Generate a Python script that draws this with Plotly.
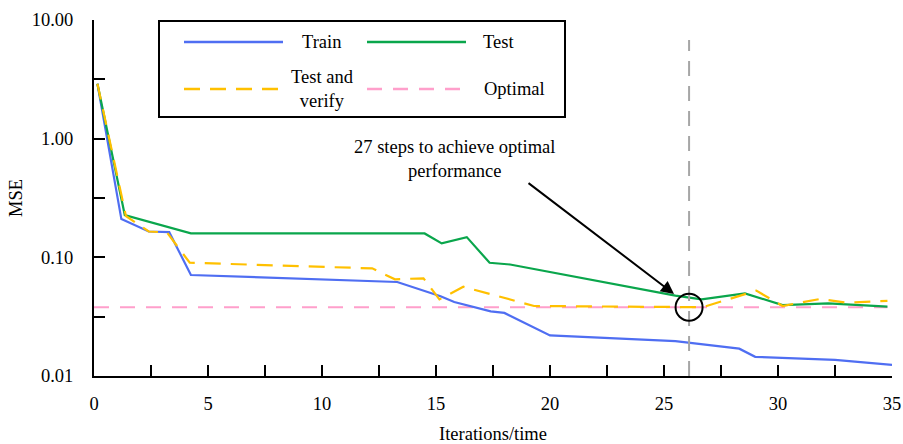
import plotly.graph_objects as go
import numpy as np

# Iterations / MSE readings for each curve
x_train = [0.15, 1.2, 2.4, 3.3, 4.25, 13.3, 15.2, 15.8, 17.4, 18.0, 20.0, 25.5, 28.3, 29.0, 32.5, 35.0]
mse_train = [2.9, 0.21, 0.165, 0.163, 0.071, 0.062, 0.047, 0.042, 0.035, 0.034, 0.022, 0.0197, 0.017, 0.0145, 0.0137, 0.0124]

x_test = [0.15, 1.35, 4.25, 14.5, 15.25, 16.35, 17.35, 18.25, 25.5, 26.65, 28.55, 30.2, 32.2, 34.8]
mse_test = [2.9, 0.227, 0.159, 0.159, 0.131, 0.148, 0.090, 0.087, 0.0475, 0.0442, 0.0497, 0.0396, 0.041, 0.0384]

x_verify = [0.15, 1.4, 2.4, 3.2, 4.2, 10.8, 12.2, 13.2, 14.45, 15.15, 16.2, 19.3, 26.7, 29.05, 30.2, 31.85, 33.0, 34.8]
mse_verify = [2.9, 0.223, 0.165, 0.162, 0.090, 0.0824, 0.0807, 0.0653, 0.0666, 0.0442, 0.0565, 0.0389, 0.038, 0.0524, 0.0389, 0.0446, 0.0415, 0.043]

x_optimal = [0.0, 34.8]
mse_optimal = [0.038, 0.038]

# Point where optimal performance is reached
x_reached = 26.1
mse_reached = 0.038
arrow_tip = (25.44, 0.0491)

x_tick_vals = [i * 2.5 for i in range(15)]
x_tick_text = [str(int(v)) if v % 5 == 0 else "" for v in x_tick_vals]
y_tick_vals = [0.01, 10 ** -1.5, 0.1, 10 ** -0.5, 1.0, 10 ** 0.5, 10.0]
y_tick_text = ["0.01", "", "0.10", "", "1.00", "", "10.00"]

BLUE = "#4F6EF2"
GREEN = "#0AA64C"
YELLOW = "#FFC000"
PINK = "#FF9FCB"
GRAY = "#A6A6A6"
FONT = "Liberation Serif"
FS = 18.5

fig = go.Figure()

fig.add_trace(go.Scatter(x=x_optimal, y=mse_optimal, mode="lines", name="Optimal",
                         line=dict(color=PINK, width=2, dash="15px,11px")))
fig.add_trace(go.Scatter(x=x_train, y=mse_train, mode="lines", name="Train",
                         line=dict(color=BLUE, width=2.2)))
fig.add_trace(go.Scatter(x=x_test, y=mse_test, mode="lines", name="Test",
                         line=dict(color=GREEN, width=2.2)))
fig.add_trace(go.Scatter(x=x_verify, y=mse_verify, mode="lines", name="Test and verify",
                         line=dict(color=YELLOW, width=2.2, dash="16px,10px")))

# vertical marker at the step where optimum is reached
fig.add_trace(go.Scatter(x=[x_reached, x_reached], y=[0.01, 6.8], mode="lines",
                         line=dict(color=GRAY, width=2, dash="15px,10px"), showlegend=False))
fig.add_trace(go.Scatter(x=[x_reached], y=[mse_reached], mode="markers", showlegend=False,
                         marker=dict(symbol="circle-open", size=27, color="black",
                                     line=dict(color="black", width=2))))

# arrow from the note to the circled point
fig.add_annotation(x=arrow_tip[0], y=np.log10(arrow_tip[1]), xref="x", yref="y",
                   text="", showarrow=True, ax=-147, ay=-112, axref="pixel", ayref="pixel",
                   arrowhead=2, arrowsize=1.3, arrowwidth=2, arrowcolor="black")
fig.add_annotation(x=0.452, y=0.61, xref="paper", yref="paper", xanchor="center", yanchor="middle",
                   text="27 steps to achieve optimal<br>performance", showarrow=False,
                   font=dict(family=FONT, size=FS, color="black"), align="center")

# legend panel
PW, PH = 798.0, 356.0
def px(v):
    return (v - 94) / PW
def py(v):
    return (376 - v) / PH

fig.add_shape(type="rect", xref="paper", yref="paper", x0=px(159), x1=px(565), y0=py(117), y1=py(21),
              line=dict(color="black", width=2), fillcolor="white", layer="above")
legend_items = [
    ("Train", BLUE, "solid", 184, 283, 42, 321),
    ("Test", GREEN, "solid", 367, 466, 42, 498),
    ("Test and<br>verify", YELLOW, "16px,10px", 184, 283, 89, 322),
    ("Optimal", PINK, "15px,11px", 367, 466, 89, 514),
]
for label, color, dash, lx0, lx1, ly, tx in legend_items:
    fig.add_shape(type="line", xref="paper", yref="paper", x0=px(lx0), x1=px(lx1), y0=py(ly), y1=py(ly),
                  line=dict(color=color, width=2.5, dash=dash), layer="above")
    fig.add_annotation(x=px(tx), y=py(ly), xref="paper", yref="paper", text=label, showarrow=False,
                       xanchor="center", yanchor="middle",
                       font=dict(family=FONT, size=FS, color="black"), align="center")

fig.update_layout(
    width=903, height=444,
    margin=dict(l=94, r=11, t=20, b=68),
    plot_bgcolor="white", paper_bgcolor="white",
    showlegend=False,
    font=dict(family=FONT, size=FS, color="black"),
)
fig.update_xaxes(range=[0, 35], tickvals=x_tick_vals, ticktext=x_tick_text, automargin=False,
                 showline=True, linecolor="black", linewidth=2, ticks="inside", ticklen=11,
                 tickwidth=2, tickcolor="black", showgrid=False, zeroline=False,
                 ticklabelstandoff=10,
                 title=dict(text="Iterations/time", standoff=14, font=dict(family=FONT, size=FS)))
fig.update_yaxes(type="log", range=[-2, 1], tickvals=y_tick_vals, ticktext=y_tick_text, automargin=False,
                 showline=True, linecolor="black", linewidth=2, ticks="inside", ticklen=11,
                 tickwidth=2, tickcolor="black", showgrid=False, zeroline=False,
                 ticklabelstandoff=15,
                 title=dict(text="MSE", standoff=4, font=dict(family=FONT, size=FS)))

fig.write_html("out.html")
